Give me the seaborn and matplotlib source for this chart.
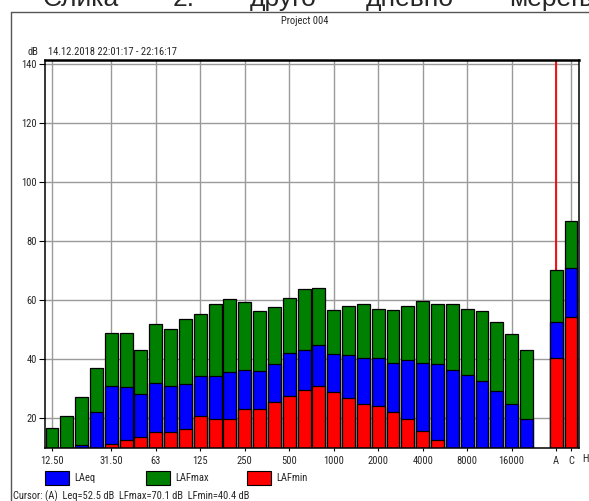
import matplotlib
matplotlib.use("Agg")
import matplotlib.pyplot as plt
from matplotlib import font_manager
import seaborn as sns
import pandas as pd
from matplotlib.patches import Rectangle
from matplotlib.lines import Line2D

# ---------------- data ----------------
bands = ["12.5", "16", "20", "25", "31.5", "40", "50", "63", "80", "100",
         "125", "160", "200", "250", "315", "400", "500", "630", "800", "1000",
         "1250", "1600", "2000", "2500", "3150", "4000", "5000", "6300", "8000",
         "10000", "12500", "16000", "20000"]
overall = ["A", "C"]

lafmax = [16.7, 20.8, 27.2, 36.8, 48.8, 48.8, 43.1, 51.9, 50.2, 53.6,
          55.3, 58.7, 60.3, 59.4, 56.3, 57.7, 60.7, 63.7, 64.0, 56.6,
          58.0, 58.7, 57.1, 56.5, 57.9, 59.7, 58.5, 58.6, 57.1, 56.3,
          52.5, 48.4, 43.0, 70.1, 86.8]
laeq = [6.5, 8.0, 10.9, 22.0, 30.8, 30.4, 28.3, 32.0, 31.0, 31.7,
        34.2, 34.4, 35.5, 36.2, 35.9, 38.2, 41.9, 43.2, 44.6, 41.6,
        41.2, 40.5, 40.2, 38.8, 39.6, 38.8, 38.2, 36.4, 34.5, 32.4,
        29.0, 24.9, 19.6, 52.5, 70.8]
lafmin = [2.0, 3.0, 4.5, 7.5, 11.1, 12.5, 13.4, 15.4, 15.4, 16.4,
          20.6, 19.5, 19.5, 22.9, 22.9, 25.4, 27.4, 29.4, 31.0, 28.7,
          26.7, 24.9, 24.2, 22.0, 19.5, 15.5, 12.5, 8.5, 7.0, 5.5,
          4.0, 3.0, 2.5, 40.4, 54.2]

tick_cats = ["12.5", "31.5", "63", "125", "250", "500", "1000", "2000",
             "4000", "8000", "16000", "A", "C"]
tick_labels = ["12.50", "31.50", "63", "125", "250", "500", "1000", "2000",
               "4000", "8000", "16000", "A", "C"]
y_ticks = [20, 40, 60, 80, 100, 120, 140]

series_names = ["LAeq", "LAFmax", "LAFmin"]
series_colors = ["#0000FF", "#008000", "#FF0000"]

title = "Project 004"
period = "14.12.2018 22:01:17 - 22:16:17"
cursor_text = "Cursor: (A)  Leq=52.5 dB  LFmax=70.1 dB  LFmin=40.4 dB"
caption_words = ["Слика", "2.", "друго", "дневно", "мерење"]

# ---------------- figure ----------------
sns.set_style("white")

# prefer a regular-weight narrow sans face if one is installed
def _w(f):
    w = f.weight
    if isinstance(w, str):
        w = {"normal": 400, "regular": 400, "book": 400, "medium": 500}.get(w.lower(), 0)
    return w

cands = {f.name for f in font_manager.fontManager.ttflist
         if ("Narrow" in f.name or "Condensed" in f.name)
         and f.style == "normal" and 400 <= _w(f) <= 500}
pref = ["Liberation Sans Narrow", "Arial Narrow", "Roboto Condensed",
        "Noto Sans Condensed", "Open Sans Condensed", "DejaVu Sans Condensed"]
chosen = [p for p in pref if p in cands] or sorted(cands)
FONT = chosen[:1] + ["Liberation Sans", "DejaVu Sans"]
plt.rcParams["font.family"] = FONT
FS = 7.6 if chosen else 7.0

W, H = 589, 501
fig = plt.figure(figsize=(W / 100, H / 100), dpi=100)

def fx(px):
    return px / W

def fy(py):
    return 1 - py / H

ax = fig.add_axes([fx(45), fy(447.5), fx(579) - fx(45), fy(60) - fy(447.5)])

labels = bands + overall
order = bands + ["_gap", "A", "C", "H"]
df = pd.DataFrame({"cat": labels, "LAFmax": lafmax, "LAeq": laeq, "LAFmin": lafmin})

for col, color in [("LAFmax", "#008000"), ("LAeq", "#0000FF"), ("LAFmin", "#FF0000")]:
    sns.barplot(data=df, x="cat", y=col, order=order, color=color, width=0.87,
                edgecolor="black", linewidth=0.9, errorbar=None, saturation=1,
                ax=ax, zorder=2)

pos = {c: i for i, c in enumerate(order)}
ax.set_xticks([pos[c] for c in tick_cats])
ax.set_xticklabels(tick_labels, fontsize=FS)
ax.text(pos["H"], 10 - 3.9, "H", ha="center", va="center", fontsize=FS,
        clip_on=False)
ax.set_xlim(-0.47, 35.54)
ax.set_ylim(10, 141.4)
ax.set_yticks(y_ticks)
ax.set_yticklabels([str(v) for v in y_ticks], fontsize=FS)
ax.set_xlabel("")
ax.set_ylabel("")

ax.set_axisbelow(True)
ax.grid(True, color="#9a9a9a", linewidth=1.0)
ax.axvline(pos["A"], color="#FF0000", linewidth=1.3, zorder=1.5)

for s in ax.spines.values():
    s.set_visible(True)
    s.set_color("black")
    s.set_linewidth(1.1)
ax.spines["top"].set_linewidth(1.8)

ax.tick_params(axis="y", left=True, length=4, width=0.8, pad=2, color="black")
ax.tick_params(axis="x", bottom=True, length=2, width=0.8, pad=4, color="black")

# header texts
fig.text(fx(305), fy(21.5), title, ha="center", va="center", fontsize=FS)
fig.text(fx(27), fy(52), "dB", ha="left", va="center", fontsize=FS)
fig.text(fx(48), fy(52), period, ha="left", va="center", fontsize=FS)

# clipped document caption at very top
for word, x in zip(caption_words, [43, 173, 250, 366, 509]):
    fig.text(fx(x), fy(6), word, ha="left", va="baseline", fontsize=19,
             family=["Liberation Sans", "DejaVu Sans"])

# outer border
fig.add_artist(Line2D([fx(11), fx(11)], [fy(12), 0], transform=fig.transFigure,
                      color="#555555", linewidth=1.0))
fig.add_artist(Line2D([fx(11), 1], [fy(12), fy(12)], transform=fig.transFigure,
                      color="#555555", linewidth=1.0))

# legend
for name, color, x0 in zip(series_names, series_colors, [45, 146, 247]):
    fig.add_artist(Rectangle((fx(x0), fy(485)), fx(24), fy(471) - fy(485),
                             transform=fig.transFigure, facecolor=color,
                             edgecolor="black", linewidth=0.8))
    fig.text(fx(x0 + 29), fy(478), name, ha="left", va="center", fontsize=FS)

fig.text(fx(13), fy(496), cursor_text, ha="left", va="center", fontsize=FS)

fig.savefig("out.png", dpi=100)
